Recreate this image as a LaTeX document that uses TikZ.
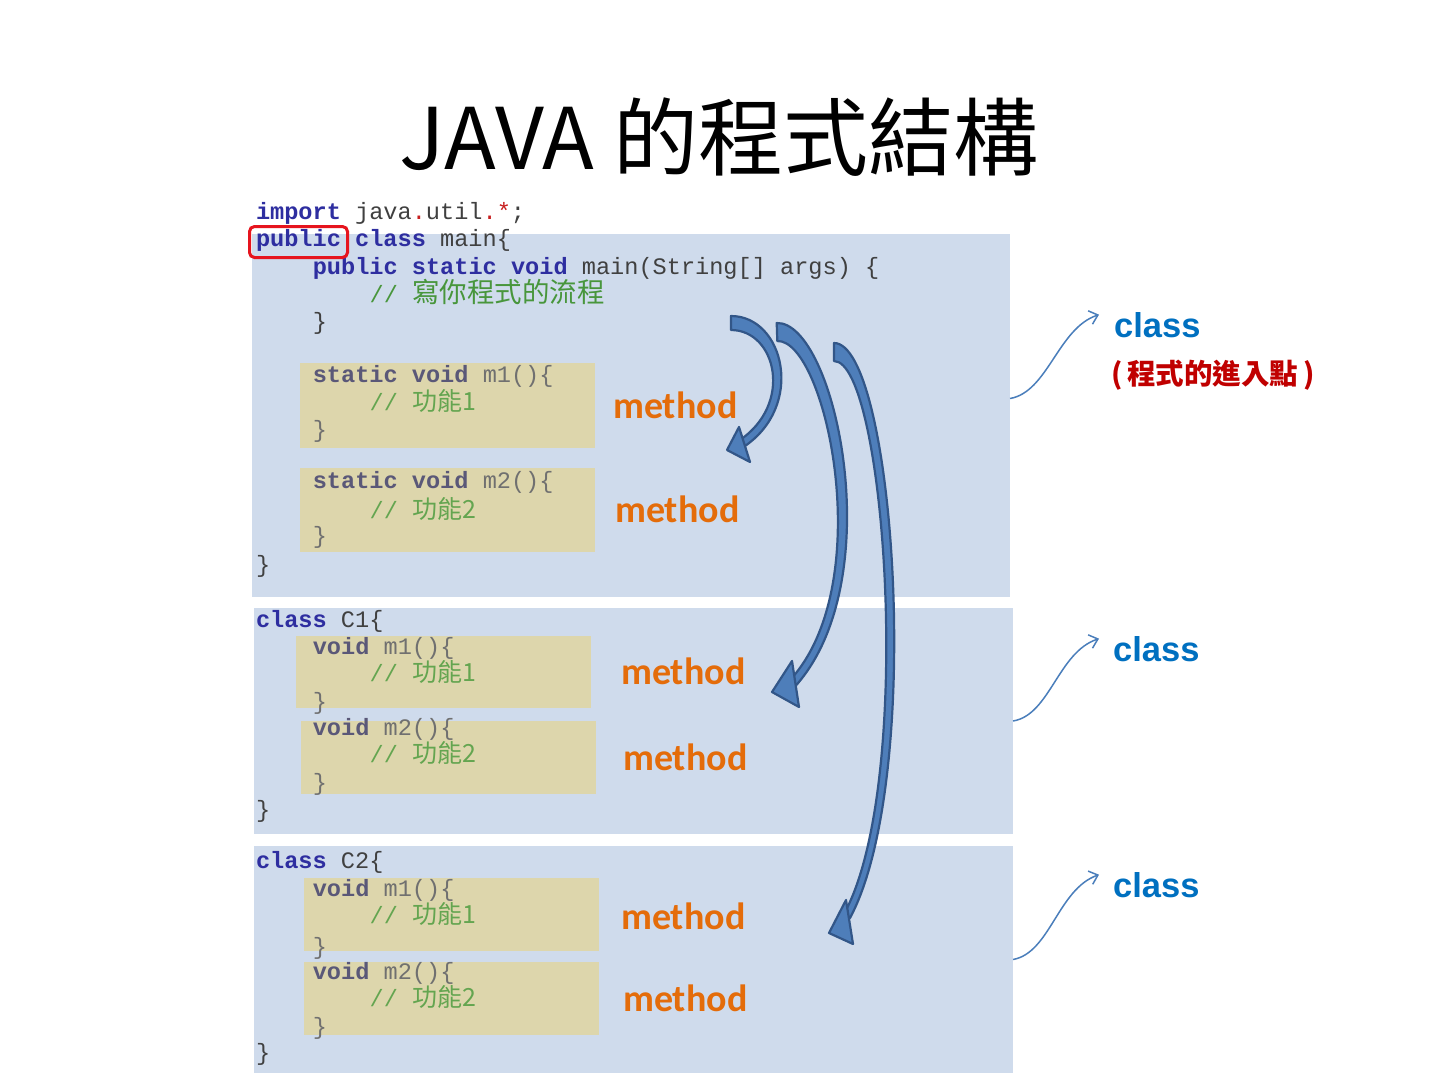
\documentclass[tikz,border=0pt]{standalone}
\usepackage{fontspec}
\setmainfont{Liberation Sans}
\newfontfamily\cjk{Noto Sans CJK TC}
\newfontfamily\codefont{Liberation Mono}
\newfontfamily\calfont{Carlito}
\usetikzlibrary{arrows.meta}
\newcommand\codesize{\fontsize{23.6}{27}\selectfont}
\definecolor{panel}{RGB}{207,219,236}
\definecolor{tanbox}{RGB}{221,214,172}
\definecolor{kw}{RGB}{46,46,160}
\definecolor{kwb}{RGB}{90,88,120}
\definecolor{plain}{RGB}{64,64,64}
\definecolor{plainb}{RGB}{112,112,112}
\definecolor{cmt}{RGB}{72,150,60}
\definecolor{cmtb}{RGB}{100,165,80}
\definecolor{orangem}{RGB}{228,108,10}
\definecolor{classblue}{RGB}{0,112,192}
\definecolor{redlbl}{RGB}{192,0,0}
\definecolor{redbox}{RGB}{230,20,30}
\definecolor{dotred}{RGB}{200,30,30}
\definecolor{arrfill}{RGB}{78,126,186}
\definecolor{arrline}{RGB}{50,86,136}
\definecolor{thinblue}{RGB}{74,126,187}
\begin{document}
\begin{tikzpicture}[x=1pt,y=-1pt,
  panelbox/.style={fill=panel, draw=none, anchor=north west, inner sep=0pt, outer sep=0pt},
  tbox/.style={fill=tanbox, draw=none, anchor=north west, inner sep=0pt, outer sep=0pt, minimum width=295pt},
  code/.style={anchor=base west, inner sep=0pt, outer sep=0pt, text=plain, font=\codefont\codesize},
  bcode/.style={code, text=plainb},
  methodlbl/.style={anchor=base west, inner sep=0pt, text=orangem, font=\calfont\bfseries\fontsize{38}{40}\selectfont},
  classlbl/.style={anchor=base west, inner sep=0pt, text=classblue, font=\bfseries\fontsize{34.5}{36}\selectfont},
  bigarrow/.style={fill=arrfill, draw=arrline, line width=2.2pt, line join=round},
  conn/.style={draw=thinblue, line width=1.5pt, -{Straight Barb[length=8pt,width=14pt]}}
]
\fill[white] (0,0) rectangle (1440,1080);
\useasboundingbox (0,0) rectangle (1440,1080);

% title
\node[anchor=base, inner sep=0pt, font=\cjk\fontsize{85}{90}\selectfont] (title) at (719,169) {JAVA 的程式結構};

% panels
\node[panelbox, minimum width=758pt, minimum height=363pt] (p1) at (252,234) {};
\node[panelbox, minimum width=759pt, minimum height=226pt] (p2) at (254,608) {};
\node[panelbox, minimum width=759pt, minimum height=227pt] (p3) at (254,846) {};

% method boxes
\node[tbox, minimum height=85pt] (t1) at (300,363) {};
\node[tbox, minimum height=84pt] (t2) at (300,468) {};
\node[tbox, minimum height=72pt] (t3) at (296,636) {};
\node[tbox, minimum height=73pt] (t4) at (301,721) {};
\node[tbox, minimum height=73pt] (t5) at (304,878) {};
\node[tbox, minimum height=73pt] (t6) at (304,962) {};

% panel 1 code
\node[code] (q1) at (256,219) {{\color{kw}\bfseries import} java{\color{dotred}.}util{\color{dotred}.*};};
\node[code] (q2) at (256,246.5) {{\color{kw}\bfseries public class} main\{};
\node[code] (q3) at (312.8,274) {{\color{kw}\bfseries public static void} main(String[] args) \{};
\node[code, text=cmt] (q4) at (369.6,302) {// {\cjk\fontsize{27.5}{30}\selectfont 寫你程式的流程}};
\node[code] (q5) at (312.8,329) {\}};
\node[bcode] (q6) at (312.8,382) {{\color{kwb}\bfseries static void} m1()\{};
\node[code, text=cmtb] (q7) at (369.6,410) {// {\cjk\fontsize{25}{28}\selectfont 功能1}};
\node[bcode] (q8) at (312.8,437) {\}};
\node[bcode] (q9) at (312.8,488) {{\color{kwb}\bfseries static void} m2()\{};
\node[code, text=cmtb] (q10) at (369.6,518) {// {\cjk\fontsize{25}{28}\selectfont 功能2}};
\node[bcode] (q11) at (312.8,543) {\}};
\node[code] (q12) at (256,572) {\}};

% panel 2 code
\node[code] (r1) at (256,627) {{\color{kw}\bfseries class} C1\{};
\node[bcode] (r2) at (312.8,654) {{\color{kwb}\bfseries void} m1()\{};
\node[code, text=cmtb] (r3) at (369.6,681) {// {\cjk\fontsize{25}{28}\selectfont 功能1}};
\node[bcode] (r4) at (312.8,709) {\}};
\node[bcode] (r5) at (312.8,735) {{\color{kwb}\bfseries void} m2()\{};
\node[code, text=cmtb] (r6) at (369.6,762) {// {\cjk\fontsize{25}{28}\selectfont 功能2}};
\node[bcode] (r7) at (312.8,790) {\}};
\node[code] (r8) at (256,817) {\}};

% panel 3 code
\node[code] (s1) at (256,868) {{\color{kw}\bfseries class} C2\{};
\node[bcode] (s2) at (312.8,896) {{\color{kwb}\bfseries void} m1()\{};
\node[code, text=cmtb] (s3) at (369.6,923) {// {\cjk\fontsize{25}{28}\selectfont 功能1}};
\node[bcode] (s4) at (312.8,954) {\}};
\node[bcode] (s5) at (312.8,979) {{\color{kwb}\bfseries void} m2()\{};
\node[code, text=cmtb] (s6) at (369.6,1006) {// {\cjk\fontsize{25}{28}\selectfont 功能2}};
\node[bcode] (s7) at (312.8,1034) {\}};
\node[code] (s8) at (256,1060) {\}};

% red box around public
\node[draw=redbox, line width=3pt, rounded corners=5pt, anchor=north west, inner sep=0pt,
      minimum width=98pt, minimum height=31pt] (rb) at (248,225) {};

% method labels
\node[methodlbl] (m1) at (613,418) {method};
\node[methodlbl] (m2) at (615,522) {method};
\node[methodlbl] (m3) at (621,684) {method};
\node[methodlbl] (m4) at (623,770) {method};
\node[methodlbl] (m5) at (621,929) {method};
\node[methodlbl] (m6) at (623,1011) {method};

% big curved arrows
\path[bigarrow] (731,316) .. controls (783.9,316) and (805.8,405.7) .. (743.5,447)
   -- (738.5,441) .. controls (794.2,404.3) and (776.1,330) .. (731,330) -- cycle;
\path[bigarrow] (727,450) -- (739,427) -- (750,462) -- cycle;

\path[bigarrow] (776.7,323) .. controls (834.6,320.8) and (891.4,578.6) .. (795.5,686)
   -- (791,679) .. controls (878.6,581.2) and (825.4,339.2) .. (777.3,341) -- cycle;
\path[bigarrow] (772,692) -- (792,661) -- (799,707) -- cycle;

\path[bigarrow] (834,343) .. controls (894.4,343) and (924.9,778.1) .. (850,918)
   -- (844.5,913) .. controls (915.1,782) and (885.6,361) .. (834,361) -- cycle;
\path[bigarrow] (829,933) -- (846,900) -- (853,944) -- cycle;

% class labels
\node[classlbl] (cl1) at (1114,337) {class};
\node[anchor=base west, inner sep=0pt, text=redlbl, font=\cjk\bfseries\fontsize{28.5}{30}\selectfont] (entry) at (1111,384) {(\,程式的進入點\,)};
\node[classlbl] (cl2) at (1113,661) {class};
\node[classlbl] (cl3) at (1113,897) {class};

% connectors
\draw[conn] ([yshift=17pt]p1.east) .. controls (1048,392) and (1058,328) .. ([xshift=-15pt,yshift=10pt]cl1.west);
\draw[conn] (p2.east) .. controls (1050,715) and (1058,652) .. ([xshift=-14pt,yshift=10pt]cl2.west);
\draw[conn] (p3.east) .. controls (1050,953) and (1058,889) .. ([xshift=-14pt,yshift=10pt]cl3.west);
\end{tikzpicture}
\end{document}
